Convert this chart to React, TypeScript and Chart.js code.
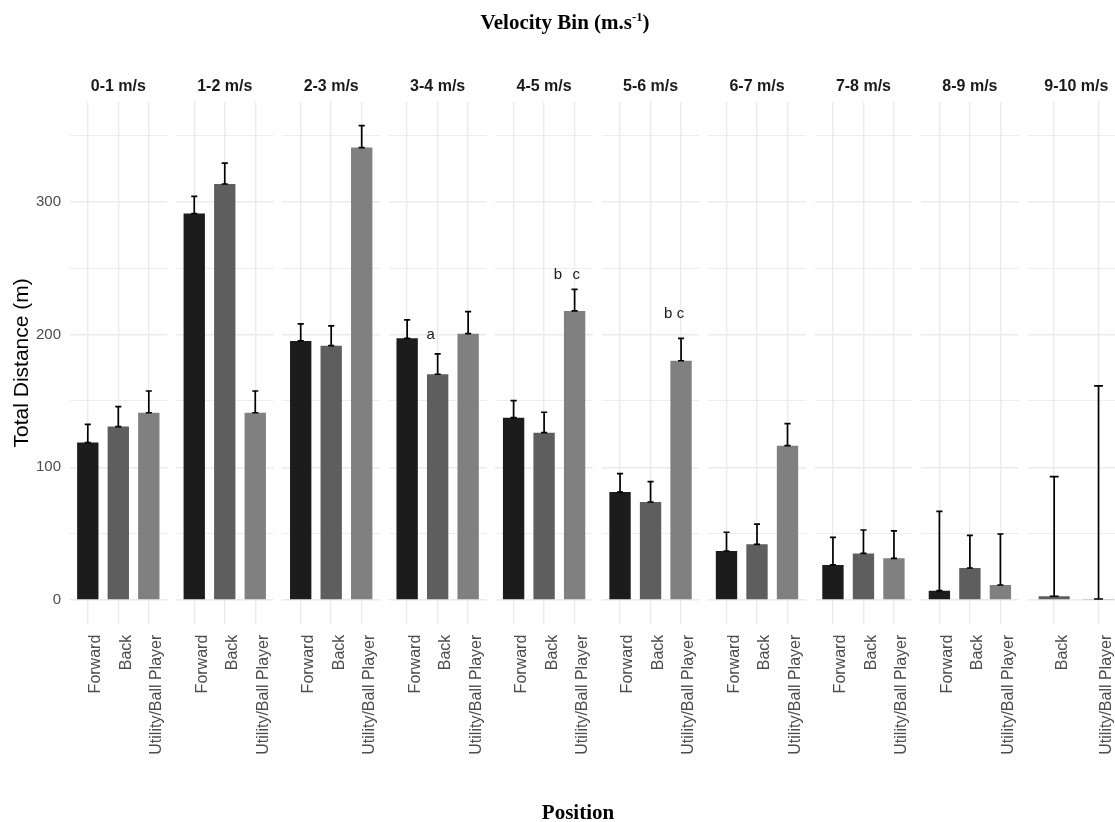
import React, { useEffect, useRef } from 'react';
import { Chart, registerables } from 'chart.js';

Chart.register(...registerables);

// ---------------- data ----------------
const velocityBins = ['0-1 m/s', '1-2 m/s', '2-3 m/s', '3-4 m/s', '4-5 m/s', '5-6 m/s', '6-7 m/s', '7-8 m/s', '8-9 m/s', '9-10 m/s'];
const positionNames = ['Forward', 'Back', 'Utility/Ball Player'];

// mean total distance (m) and upper error (SD) per velocity bin; null = no data
const forwardMean = [118.6, 291.0, 195.1, 197.1, 137.3, 81.3, 36.9, 26.4, 7.0, null];
const forwardSD = [13.7, 13.0, 12.8, 13.8, 12.8, 13.9, 14.1, 20.8, 59.8, null];
const backMean = [130.6, 313.3, 191.5, 170.0, 126.0, 73.8, 41.9, 35.1, 24.1, 2.8];
const backSD = [15.0, 15.7, 15.0, 15.3, 15.4, 15.3, 15.3, 17.6, 24.6, 90.1];
const utilityMean = [141.0, 141.0, 340.7, 200.6, 217.7, 180.2, 116.2, 31.4, 11.3, 0.75];
const utilitySD = [16.4, 16.4, 16.5, 16.6, 16.3, 16.9, 16.6, 20.6, 38.4, 160.5];

const yTickValues = [0, 50, 100, 150, 200, 250, 300, 350];
const yLabelledTicks = [0, 100, 200, 300];

// significance letters (bin, category position, value at text baseline)
const sigBins = ['3-4 m/s', '4-5 m/s', '4-5 m/s', '5-6 m/s', '5-6 m/s'];
const sigPositions = [0.77, 1.45, 2.05, 1.58, 1.98];
const sigValues = [196.6, 241.5, 241.5, 212.2, 212.2];
const sigTexts = ['a', 'b', 'c', 'b', 'c'];

// ---------------- style / layout ----------------
const COLORS = ['#1c1c1c', '#5e5e5e', '#808080'];
const GRID = '#ebebeb';
const SANS = '"Liberation Sans", Arial, Helvetica, sans-serif';
const SERIF = '"Liberation Serif", "Times New Roman", serif';
const CANVAS_W = 1140;
const CANVAS_H = 822;
const PANEL_LEFT = 69.5;
const PANEL_STEP = 106.45;
const PANEL_W = 97.6;
const AREA_TOP = 102;
const AREA_BOTTOM = 623.7;

const allTops: number[] = [];
[[forwardMean, forwardSD], [backMean, backSD], [utilityMean, utilitySD]].forEach(([m, s]) => {
  m.forEach((v, i) => { if (v !== null) allTops.push((v as number) + ((s[i] as number) || 0)); });
});
const dataMax = Math.max(...allTops);
const Y_MAX = dataMax * 1.05;
const Y_MIN = -dataMax * 0.05;

const errorBarPlugin = {
  id: 'errorBars',
  afterDatasetsDraw(chart: any, _args: any, opts: any) {
    const { ctx } = chart;
    const x = chart.scales.x;
    const y = chart.scales.y;
    ctx.save();
    ctx.strokeStyle = '#000000';
    ctx.lineWidth = 1.7;
    (opts.items || []).forEach((it: any) => {
      const px = x.getPixelForValue(it.x);
      const pl = x.getPixelForValue(it.x - 0.1);
      const pr = x.getPixelForValue(it.x + 0.1);
      const y0 = y.getPixelForValue(it.mean);
      const y1 = y.getPixelForValue(it.mean + it.sd);
      ctx.beginPath();
      ctx.moveTo(px, y0);
      ctx.lineTo(px, y1);
      ctx.moveTo(pl, y0);
      ctx.lineTo(pr, y0);
      ctx.moveTo(pl, y1);
      ctx.lineTo(pr, y1);
      ctx.stroke();
    });
    ctx.restore();
  },
};

const letterPlugin = {
  id: 'sigLetters',
  afterDatasetsDraw(chart: any, _args: any, opts: any) {
    const { ctx } = chart;
    const x = chart.scales.x;
    const y = chart.scales.y;
    ctx.save();
    ctx.fillStyle = '#1a1a1a';
    ctx.font = `15px ${SANS}`;
    ctx.textAlign = 'center';
    ctx.textBaseline = 'alphabetic';
    (opts.items || []).forEach((it: any) => {
      ctx.fillText(it.text, x.getPixelForValue(it.x), y.getPixelForValue(it.y));
    });
    ctx.restore();
  },
};

function Panel({ binIndex }: { binIndex: number }) {
  const ref = useRef<HTMLCanvasElement>(null);
  useEffect(() => {
    const bin = velocityBins[binIndex];
    const means = [forwardMean, backMean, utilityMean];
    const sds = [forwardSD, backSD, utilitySD];
    const entries = positionNames
      .map((name, p) => ({ name, mean: means[p][binIndex], sd: sds[p][binIndex], color: COLORS[p] }))
      .filter((e) => e.mean !== null) as { name: string; mean: number; sd: number; color: string }[];
    const n = entries.length;
    const isFirst = binIndex === 0;
    const left = PANEL_LEFT + binIndex * PANEL_STEP;
    const right = left + PANEL_W;
    const letters = sigBins
      .map((b, i) => ({ b, x: sigPositions[i], y: sigValues[i], text: sigTexts[i] }))
      .filter((l) => l.b === bin);

    const chart = new Chart(ref.current as HTMLCanvasElement, {
      type: 'bar',
      data: {
        datasets: [
          {
            data: entries.map((e, i) => ({ x: i, y: e.mean })) as any,
            backgroundColor: entries.map((e) => e.color),
            borderWidth: 0,
            barPercentage: 0.7,
            categoryPercentage: 1,
          },
        ],
      },
      options: {
        animation: false,
        responsive: false,
        events: [],
        layout: { padding: { left: isFirst ? 0 : left, right: CANVAS_W - right, top: 0, bottom: 0 } },
        scales: {
          x: {
            type: 'linear',
            min: -0.6,
            max: n - 1 + 0.6,
            offset: false,
            grid: { offset: false, color: GRID, lineWidth: 1.4, drawTicks: false },
            border: { display: false },
            afterBuildTicks: (s: any) => {
              s.ticks = entries.map((_, i) => ({ value: i }));
            },
            afterFit: (s: any) => {
              s.height = CANVAS_H - AREA_BOTTOM;
            },
            ticks: {
              autoSkip: false,
              minRotation: 90,
              maxRotation: 90,
              padding: 11,
              labelOffset: 8,
              color: '#4d4d4d',
              font: { size: 16, family: SANS },
              callback: (v: any) => (entries[v] ? entries[v].name : ''),
            },
          },
          y: {
            type: 'linear',
            min: Y_MIN,
            max: Y_MAX,
            grid: {
              color: GRID,
              drawTicks: false,
              lineWidth: (ctx: any) => (ctx.tick && yLabelledTicks.includes(ctx.tick.value) ? 1.4 : 0.9),
            },
            border: { display: false },
            afterBuildTicks: (s: any) => {
              s.ticks = yTickValues.map((v) => ({ value: v }));
            },
            afterFit: (s: any) => {
              s.width = isFirst ? PANEL_LEFT : 0;
            },
            title: {
              display: isFirst,
              text: 'Total Distance (m)',
              color: '#000000',
              font: { size: 21, family: SANS },
              padding: { top: 9.9, bottom: 0 },
            },
            ticks: {
              display: isFirst,
              padding: 8.5,
              color: '#4d4d4d',
              font: { size: 15, family: SANS },
              callback: (v: any) => (yLabelledTicks.includes(v) ? String(v) : ''),
            },
          },
        },
        plugins: {
          legend: { display: false },
          tooltip: { enabled: false },
          title: {
            display: true,
            text: bin,
            fullSize: false,
            color: '#1a1a1a',
            font: { size: 16, weight: 'bold', family: SANS },
            padding: { top: 77, bottom: AREA_TOP - 77 - 16 * 1.2 },
          },
          errorBars: { items: entries.map((e, i) => ({ x: i, mean: e.mean, sd: e.sd })) },
          sigLetters: { items: letters },
        } as any,
      },
      plugins: [errorBarPlugin, letterPlugin],
    } as any);
    return () => chart.destroy();
  }, [binIndex]);

  return (
    <div style={{ position: 'absolute', left: 0, top: 0, width: CANVAS_W, height: CANVAS_H }}>
      <canvas ref={ref} width={CANVAS_W} height={CANVAS_H} style={{ display: 'block' }} />
    </div>
  );
}

export default function App() {
  return (
    <div
      style={{
        position: 'absolute',
        left: 0,
        top: 0,
        width: 1115,
        height: 822,
        overflow: 'hidden',
        background: '#ffffff',
      }}
    >
      {velocityBins.map((_, i) => (
        <Panel key={i} binIndex={i} />
      ))}
      <div
        style={{
          position: 'absolute',
          left: 365,
          width: 400,
          top: 10,
          textAlign: 'center',
          fontFamily: SERIF,
          fontWeight: 'bold',
          fontSize: 21,
          lineHeight: '24px',
          color: '#000',
        }}
      >
        Velocity Bin (m.s<sup style={{ fontSize: '0.6em', lineHeight: 0 }}>-1</sup>)
      </div>
      <div
        style={{
          position: 'absolute',
          left: 378,
          width: 400,
          top: 800,
          textAlign: 'center',
          fontFamily: SERIF,
          fontWeight: 'bold',
          fontSize: 21,
          lineHeight: '24px',
          color: '#000',
        }}
      >
        Position
      </div>
    </div>
  );
}
